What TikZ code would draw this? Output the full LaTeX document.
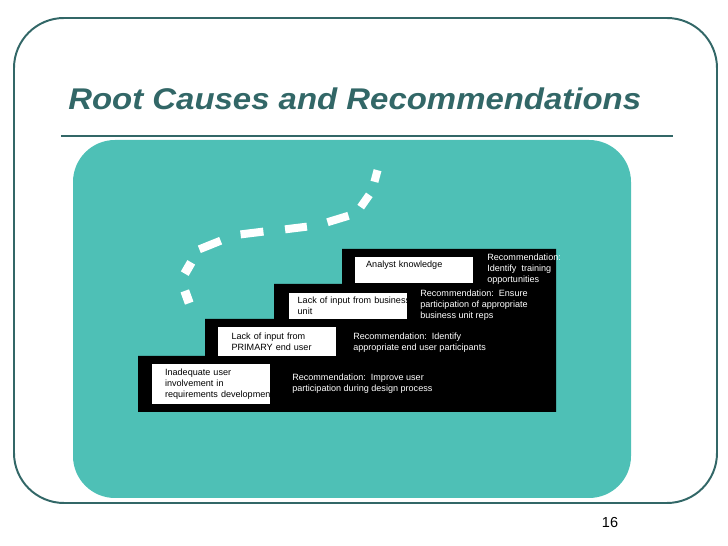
\documentclass[tikz,border=0pt]{standalone}
\usepackage{fontspec}
\setmainfont{Liberation Sans}
\usepackage{pgf, tikz}
\pgfdeclarelayer{edgelayer}
\pgfdeclarelayer{nodelayer}
\pgfsetlayers{edgelayer,nodelayer,main}
\definecolor{frameteal}{RGB}{50,103,103}
\definecolor{panelteal}{RGB}{78,192,182}
\newcommand{\smalltext}{\fontsize{6.45}{7.8}\selectfont}
\tikzstyle{frame}=[draw=frameteal, line width=1.4pt, rounded corners=1.25cm]
\tikzstyle{panel}=[fill=panelteal, rounded corners=1.05cm]
\tikzstyle{cause}=[fill=white, inner xsep=0.28cm, inner ysep=0, text width=2.39cm, align=left, font=\smalltext]
\tikzstyle{advice}=[text=white, anchor=west, inner sep=0, align=left, font=\smalltext]
\tikzstyle{dashbit}=[fill=white, minimum height=0.2cm, inner sep=0]

\begin{document}
\begin{tikzpicture}
				\useasboundingbox (0, 0) rectangle (18.2, 13.65);
				\begin{pgfonlayer}{edgelayer}
					\draw [style=frame] (0.35, 1.075) rectangle (17.925, 13.2);
					\draw [draw=frameteal, line width=2.1pt] (1.525, 10.25) -- (16.825, 10.25);
					\fill [style=panel] (1.825, 1.2) rectangle (15.775, 10.15);
					\fill [black] (3.45, 3.35) -- (3.45, 4.75) -- (5.125, 4.75) -- (5.125, 5.675)
						-- (6.85, 5.675) -- (6.85, 6.55) -- (8.55, 6.55) -- (8.55, 7.425)
						-- (13.9, 7.425) -- (13.9, 3.35) -- cycle;
				\end{pgfonlayer}
				\begin{pgfonlayer}{nodelayer}
					\node [anchor=base west, inner sep=0, text=frameteal, font=\fontsize{21.3}{26}\selectfont\bfseries\itshape] (title) at (1.7, 10.9) {\scalebox{1.1}[1]{Root Causes and Recommendations}};
					\node [style=cause, minimum height=1cm, inner xsep=0.34cm, text width=2.27cm] (c1) at (5.2625, 4.05) {Inadequate user\\involvement in\\\mbox{requirements development}};
					\node [style=cause, minimum height=0.725cm, inner xsep=0.34cm, text width=2.27cm] (c2) at (6.925, 5.1125) {Lack of input from\\PRIMARY end user};
					\node [style=cause, minimum height=0.65cm, inner xsep=0.23cm, text width=2.49cm] (c3) at (8.6875, 6.0) {\mbox{Lack of input from business}\\unit};
					\node [style=cause, minimum height=0.65cm, text height=0.175cm, text depth=0.3cm] (c4) at (10.35, 6.9) {Analyst knowledge};
					\node [style=advice] (r1) at (7.3, 4.05) {Recommendation:\ \ Improve user\\participation during design process};
					\node [style=advice] (r2) at (8.825, 5.075) {Recommendation:\ \ Identify\\appropriate end user participants};
					\node [style=advice] (r3) at (10.5, 6.025) {Recommendation:\ \ Ensure\\participation of appropriate\\business unit reps};
					\node [style=advice] (r4) at (12.175, 6.925) {Recommendation:\\Identify\ \ training\\opportunities};
					\node [style=dashbit, minimum width=0.3cm, rotate=75] (d1) at (9.4, 9.25) {};
					\node [style=dashbit, minimum width=0.375cm, rotate=55] (d2) at (9.125, 8.625) {};
					\node [style=dashbit, minimum width=0.55cm, rotate=17] (d3) at (8.45, 8.175) {};
					\node [style=dashbit, minimum width=0.55cm, rotate=7] (d4) at (7.4, 7.95) {};
					\node [style=dashbit, minimum width=0.575cm, rotate=7] (d5) at (6.3, 7.825) {};
					\node [style=dashbit, minimum width=0.575cm, rotate=22] (d6) at (5.25, 7.525) {};
					\node [style=dashbit, minimum width=0.325cm, minimum height=0.225cm, rotate=60] (d7) at (4.7, 6.95) {};
					\node [style=dashbit, minimum width=0.325cm, minimum height=0.225cm, rotate=110] (d8) at (4.675, 6.225) {};
					\node [inner sep=0, font=\fontsize{10.3}{12}\selectfont] (page) at (15.25, 0.575) {16};
				\end{pgfonlayer}
			\end{tikzpicture}
\end{document}
